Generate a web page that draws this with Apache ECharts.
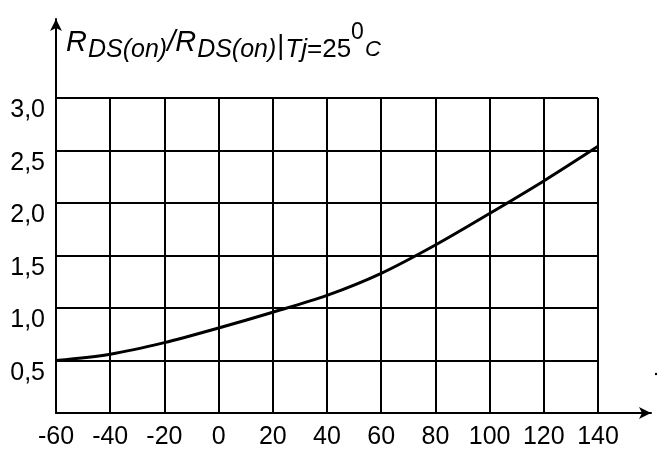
<!DOCTYPE html>
<html>
<head>
<meta charset="utf-8">
<script src="https://cdn.jsdelivr.net/npm/echarts@6/dist/echarts.min.js"></script>
<style>
html,body{margin:0;padding:0;background:#fff;}
#chart{width:658px;height:450px;}
</style>
</head>
<body>
<div id="chart"></div>
<script>
// Junction temperature Tj (°C)
const temperatures = [-60, -40, -20, 0, 20, 40, 60, 80, 100, 120, 140];
// Normalized on-resistance RDS(on)/RDS(on)@25°C
const ratio = [0.50, 0.56, 0.67, 0.81, 0.96, 1.12, 1.33, 1.60, 1.90, 2.21, 2.54];
// Tick labels
const xTickLabels = ['-60', '-40', '-20', '0', '20', '40', '60', '80', '100', '120', '140'];
const yTickLabels = ['', '0,5', '1,0', '1,5', '2,0', '2,5', '3,0'];

const FONT = 'Liberation Sans, Arial, sans-serif';
const chart = echarts.init(document.getElementById('chart'), null, {renderer: 'canvas'});

const gridLine = {show: true, lineStyle: {color: '#000', width: 2, type: 'solid'}};
function tok(size, italic, pad) {
  return {fontSize: size, fontStyle: italic ? 'italic' : 'normal', fontWeight: 'normal', color: '#000',
          fontFamily: FONT, lineHeight: size, verticalAlign: 'bottom', padding: pad};
}

chart.setOption({
  animation: false,
  backgroundColor: '#fff',
  title: {
    left: 66, top: 34, padding: 0,
    text: '{R|R}{s|DS(on)}{sl|/}{R|R}{s|DS(on)}{bar||}{si|Tj}{s2|=25}{sup|0}{ci|C}',
    textStyle: {
      fontFamily: FONT, fontWeight: 'normal',
      rich: {
        R:   tok(29, true, [0, 1, 6, 0]),
        sl:  tok(29, true, [0, 0, 6, 0]),
        s:   tok(25, true, [0, 0, 0, 0]),
        bar: tok(27, false, [0, 1, 3, 1]),
        si:  tok(26, true, [0, 0, 0, 0]),
        s2:  tok(26, false, [0, 0, 0, 0]),
        sup: tok(23, false, [0, 1, 19, 0]),
        ci:  tok(22, true, [0, 0, 2, 0])
      }
    }
  },
  grid: [
    {left: 56, right: 60, top: 98, bottom: 37, containLabel: false},
    {left: 56, right: 7, top: 19, bottom: 37, containLabel: false}
  ],
  xAxis: [
    {
      type: 'value', gridIndex: 0, min: -60, max: 140, interval: 20,
      axisLine: {show: false}, axisTick: {show: false},
      splitLine: gridLine,
      axisLabel: {
        show: true, margin: 12, color: '#000', fontSize: 25, fontFamily: FONT,
        formatter: function (v) { const i = temperatures.indexOf(v); return i >= 0 ? xTickLabels[i] : ''; }
      }
    },
    {
      type: 'value', gridIndex: 1, min: 0, max: 1,
      axisLine: {show: true, symbol: ['none', 'arrow'], symbolSize: [9, 12], lineStyle: {color: '#000', width: 2}},
      axisTick: {show: false}, axisLabel: {show: false}, splitLine: {show: false}
    }
  ],
  yAxis: [
    {
      type: 'value', gridIndex: 0, min: 0, max: 3, interval: 0.5,
      axisLine: {show: false}, axisTick: {show: false},
      splitLine: gridLine,
      axisLabel: {
        show: true, margin: 11, color: '#000', fontSize: 25, fontFamily: FONT, verticalAlign: 'top',
        formatter: function (v) { return yTickLabels[Math.round(v / 0.5)] || ''; }
      }
    },
    {
      type: 'value', gridIndex: 1, min: 0, max: 1,
      axisLine: {show: true, symbol: ['none', 'arrow'], symbolSize: [9, 12], lineStyle: {color: '#000', width: 2}},
      axisTick: {show: false}, axisLabel: {show: false}, splitLine: {show: false}
    }
  ],
  series: [{
    type: 'line',
    xAxisIndex: 0, yAxisIndex: 0,
    data: temperatures.map((t, i) => [t, ratio[i]]),
    smooth: 0.3,
    showSymbol: false, symbol: 'none',
    lineStyle: {color: '#000', width: 3},
    z: 5
  }],
  graphic: [{type: 'circle', shape: {cx: 656, cy: 374, r: 1.2}, style: {fill: '#000'}}]
});
</script>
</body>
</html>
